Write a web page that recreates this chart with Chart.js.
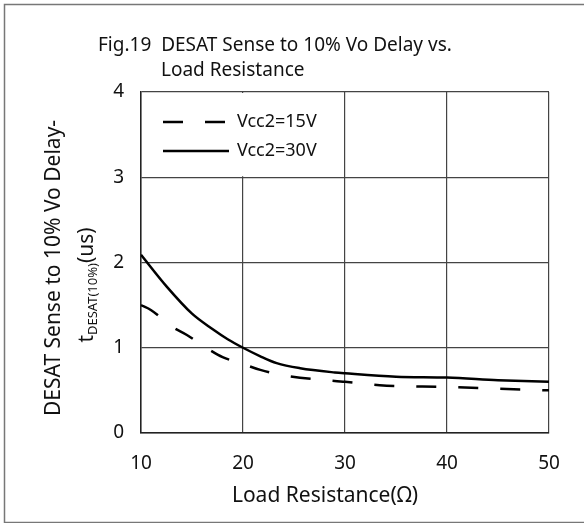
<!DOCTYPE html>
<html>
	<head>
		<meta charset="UTF-8" />
		<title>Fig.19 DESAT Sense to 10% Vo Delay vs. Load Resistance</title>
		<style type="text/css">
			body { margin: 0; background: #fff; }
			.chartBox { width: 584px; height: 523px; }
		</style>
	</head>
	<body>
		<div class="chartBox">
			<canvas id="myChart" width="584" height="523"></canvas>
		</div>
		<script src="https://cdn.jsdelivr.net/npm/chart.js"></script>
		<script>
			//data
			const loadR30 = [10, 12.5, 15, 17, 18.5, 20, 21.7, 23.3, 25.6, 29, 30, 35, 40, 45, 50];
			const delay30 = [2.09, 1.72, 1.40, 1.22, 1.10, 1.0, 0.90, 0.82, 0.76, 0.71, 0.70, 0.66, 0.65, 0.62, 0.60];
			const loadR15 = [10, 11, 13, 14.5, 16.4, 18, 20, 21.7, 24.3, 29, 30, 33.4, 40, 45, 50];
			const delay15 = [1.50, 1.44, 1.25, 1.15, 1.0, 0.89, 0.81, 0.74, 0.67, 0.61, 0.60, 0.56, 0.54, 0.52, 0.50];
			const seriesNames = ['Vcc2=15V', 'Vcc2=30V'];
			const xTicks = [10, 20, 30, 40, 50];
			const yTicks = [0, 1, 2, 3, 4];

			const FONT = '"Noto Sans", "Open Sans", sans-serif';

			function toPoints(xs, ys) {
				return xs.map((x, i) => ({ x: x, y: ys[i] }));
			}

			//frame, title, axis titles, legend
			const decor = {
				id: 'decor',
				beforeDraw(chart) {
					const ctx = chart.ctx;
					ctx.save();
					ctx.fillStyle = '#fff';
					ctx.fillRect(0, 0, chart.width, chart.height);
					ctx.strokeStyle = '#777';
					ctx.lineWidth = 1.5;
					ctx.strokeRect(4.5, 4.5, 620, 518);
					ctx.fillStyle = '#111';
					ctx.font = '19px ' + FONT;
					ctx.textBaseline = 'alphabetic';
					ctx.textAlign = 'left';
					ctx.fillText('Fig.19  DESAT Sense to 10% Vo Delay vs.', 98, 51);
					ctx.fillText('Load Resistance', 161, 76);

					//x axis title
					ctx.font = '21px ' + FONT;
					ctx.textAlign = 'center';
					ctx.textBaseline = 'middle';
					ctx.fillText('Load Resistance(Ω)', 325, 496);

					//y axis title, rotated, with subscript
					ctx.translate(54, 268);
					ctx.rotate(-Math.PI / 2);
					ctx.fillText('DESAT Sense to 10% Vo Delay-', 0, 0);
					ctx.restore();

					ctx.save();
					ctx.translate(86, 285);
					ctx.rotate(-Math.PI / 2);
					ctx.fillStyle = '#111';
					ctx.textBaseline = 'alphabetic';
					const big = '21px ' + FONT, small = '13px ' + FONT;
					ctx.font = big;
					const w1 = ctx.measureText('t').width;
					const w3 = ctx.measureText('(us)').width;
					ctx.font = small;
					const w2 = ctx.measureText('DESAT(10%)').width;
					let x = -(w1 + w2 + w3) / 2;
					ctx.font = big;
					ctx.fillText('t', x, 7);
					x += w1;
					ctx.font = small;
					ctx.fillText('DESAT(10%)', x, 11);
					x += w2;
					ctx.font = big;
					ctx.fillText('(us)', x, 7);
					ctx.restore();
				},
				beforeDatasetsDraw(chart) {
					const ctx = chart.ctx;
					const xs = chart.scales.x, ys = chart.scales.y;
					const l = xs.getPixelForValue(10), r = xs.getPixelForValue(30);
					const t = ys.getPixelForValue(4), b = ys.getPixelForValue(3);
					ctx.save();
					ctx.fillStyle = '#fff';
					ctx.fillRect(l + 1, t + 1, r - l - 2, b - t - 2);
					const ds = chart.data.datasets;
					const rows = [122, 151];
					for (let i = 0; i < ds.length; i++) {
						ctx.beginPath();
						ctx.strokeStyle = '#000';
						ctx.lineWidth = 2.5;
						ctx.setLineDash(ds[i].borderDash || []);
						ctx.moveTo(163, rows[i]);
						ctx.lineTo(229, rows[i]);
						ctx.stroke();
						ctx.setLineDash([]);
						ctx.fillStyle = '#111';
						ctx.font = '18px ' + FONT;
						ctx.textBaseline = 'middle';
						ctx.fillText(ds[i].label, 237, rows[i]);
					}
					ctx.restore();
				}
			};

			const data = {
				datasets: [{
					label: seriesNames[0],
					data: toPoints(loadR15, delay15),
					borderColor: '#000',
					borderWidth: 2.5,
					borderDash: [20, 22],
					pointRadius: 0,
					cubicInterpolationMode: 'monotone',
					fill: false
				}, {
					label: seriesNames[1],
					data: toPoints(loadR30, delay30),
					borderColor: '#000',
					borderWidth: 2.5,
					pointRadius: 0,
					cubicInterpolationMode: 'monotone',
					fill: false
				}]
			};

			const config = {
				type: 'line',
				data,
				plugins: [decor],
				options: {
					responsive: false,
					animation: false,
					layout: { padding: { left: 0, right: 35, top: 92, bottom: 0 } },
					plugins: { legend: { display: false }, tooltip: { enabled: false } },
					scales: {
						x: {
							type: 'linear',
							min: 10, max: 50,
							afterBuildTicks: s => { s.ticks = xTicks.map(v => ({ value: v })); },
							afterFit: s => { s.height = 90; },
							border: { color: '#222', width: 1.5 },
							grid: { color: '#444', lineWidth: 1.2, drawTicks: false },
							ticks: { color: '#111', padding: 19, font: { family: FONT, size: 19 } }
						},
						y: {
							min: 0, max: 4,
							afterBuildTicks: s => { s.ticks = yTicks.map(v => ({ value: v })); },
							afterFit: s => { s.width = 141; },
							border: { color: '#222', width: 1.5 },
							grid: { color: '#444', lineWidth: 1.2, drawTicks: false },
							ticks: { color: '#111', padding: 17, font: { family: FONT, size: 19 } }
						}
					}
				}
			};

			const myChart = new Chart(document.getElementById('myChart'), config);
		</script>
	</body>
</html>
